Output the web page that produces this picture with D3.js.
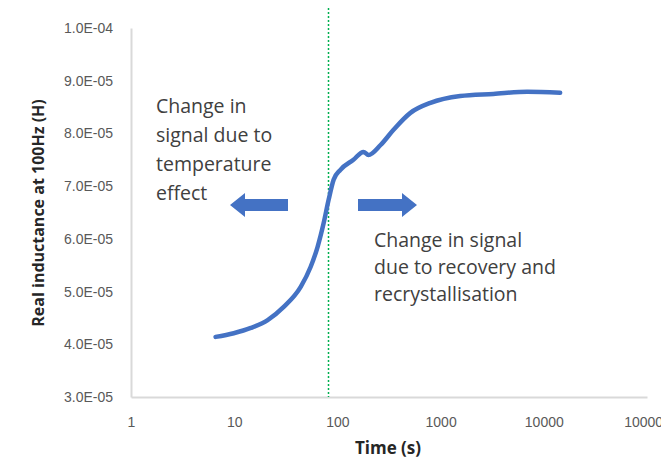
<!DOCTYPE html>
<html>
<head>
<meta charset="utf-8">
<script src="https://cdn.jsdelivr.net/npm/d3@7"></script>
<style>
  body { margin: 0; background: #fff; }
  svg { display: block; font-family: "Open Sans", "Liberation Sans", sans-serif; }
</style>
</head>
<body>
<script>
// Data
const times = [6.6, 9.9, 14.5, 21.1, 30.2, 44.1, 55.1, 64.3, 73.6, 82.2, 91.9, 107, 143, 179, 200, 262, 350, 510, 797, 1550, 3240, 6910, 14400];
const inductance = [4.14e-5, 4.21e-5, 4.31e-5, 4.46e-5, 4.71e-5, 5.09e-5, 5.47e-5, 5.85e-5, 6.30e-5, 6.74e-5, 7.12e-5, 7.31e-5, 7.50e-5, 7.65e-5, 7.59e-5, 7.78e-5, 8.07e-5, 8.39e-5, 8.58e-5, 8.71e-5, 8.75e-5, 8.79e-5, 8.77e-5];
const xTicks = [1, 10, 100, 1000, 10000, 100000];
const yTicks = [3e-5, 4e-5, 5e-5, 6e-5, 7e-5, 8e-5, 9e-5, 1e-4];
const markerTime = 82;
const leftNote = ["Change in", "signal due to", "temperature", "effect"];
const rightNote = ["Change in signal", "due to recovery and", "recrystallisation"];

const W = 661, H = 461;
const margin = { top: 28, right: 14, bottom: 64, left: 131 };
const width = W - margin.left - margin.right;
const height = H - margin.top - margin.bottom;

const svg = d3.select("body").append("svg")
    .attr("width", W)
    .attr("height", H);

const g = svg.append("g")
    .attr("transform", `translate(${margin.left},${margin.top})`);

const x = d3.scaleLog().domain([1, 100000]).range([0, width]);
const y = d3.scaleLinear().domain([3e-5, 1e-4]).range([height, 0]);

// format like 9.0E-05
function fmtSci(v) {
    const parts = v.toExponential(1).split("e");
    const exp = +parts[1];
    const sign = exp < 0 ? "-" : "+";
    return parts[0] + "E" + sign + String(Math.abs(exp)).padStart(2, "0");
}

// Y axis
const yAxis = g.append("g")
    .call(d3.axisLeft(y).tickValues(yTicks).tickFormat(fmtSci).tickSize(0).tickPadding(18));
yAxis.select(".domain").attr("stroke", "#d9d9d9").attr("stroke-width", 2);
yAxis.selectAll("text").attr("fill", "#595959").style("font-size", "14px");

// X axis
const xAxis = g.append("g")
    .attr("transform", `translate(0,${height})`)
    .call(d3.axisBottom(x).tickValues(xTicks).tickFormat(d3.format("d")).tickSize(0).tickPadding(20));
xAxis.select(".domain").attr("stroke", "#d9d9d9").attr("stroke-width", 2);
xAxis.selectAll("text").attr("fill", "#595959").style("font-size", "14px");

// green dotted marker line
g.append("line")
    .attr("x1", x(markerTime)).attr("x2", x(markerTime))
    .attr("y1", -20).attr("y2", height)
    .attr("stroke", "#00b050")
    .attr("stroke-width", 1.5)
    .attr("stroke-dasharray", "2,2");

// the data line
const line = d3.line()
    .x((d, i) => x(times[i]))
    .y(d => y(d))
    .curve(d3.curveMonotoneX);

g.append("path")
    .datum(inductance)
    .attr("d", line)
    .attr("fill", "none")
    .attr("stroke", "#4472c4")
    .attr("stroke-width", 4.5)
    .attr("stroke-linecap", "round")
    .attr("stroke-linejoin", "round");

// block arrows
function arrow(x0, x1, yc) {
    const dir = x1 > x0 ? 1 : -1;
    const head = 15 * dir;
    const pts = [
        [x0, yc - 6], [x1 - head, yc - 6], [x1 - head, yc - 12], [x1, yc],
        [x1 - head, yc + 12], [x1 - head, yc + 6], [x0, yc + 6]
    ];
    svg.append("polygon")
        .attr("points", pts.map(p => p.join(",")).join(" "))
        .attr("fill", "#4472c4");
}
arrow(288, 230, 205);
arrow(358, 417, 205);

// annotations
svg.append("g").selectAll("text")
    .data(leftNote)
    .enter().append("text")
    .attr("x", 156)
    .attr("y", (d, i) => 113 + i * 29)
    .attr("fill", "#404040")
    .style("font-size", "19.5px")
    .text(d => d);

svg.append("g").selectAll("text")
    .data(rightNote)
    .enter().append("text")
    .attr("x", 374)
    .attr("y", (d, i) => 247 + i * 27)
    .attr("fill", "#404040")
    .style("font-size", "19.5px")
    .text(d => d);

// axis titles
svg.append("text")
    .attr("transform", `translate(44,213) rotate(-90)`)
    .attr("text-anchor", "middle")
    .attr("fill", "#262626")
    .style("font-size", "16px")
    .style("font-weight", "bold")
    .text("Real inductance at 100Hz (H)");

svg.append("text")
    .attr("x", 388)
    .attr("y", 454)
    .attr("text-anchor", "middle")
    .attr("fill", "#262626")
    .style("font-size", "17px")
    .style("font-weight", "bold")
    .text("Time (s)");
</script>
</body>
</html>
